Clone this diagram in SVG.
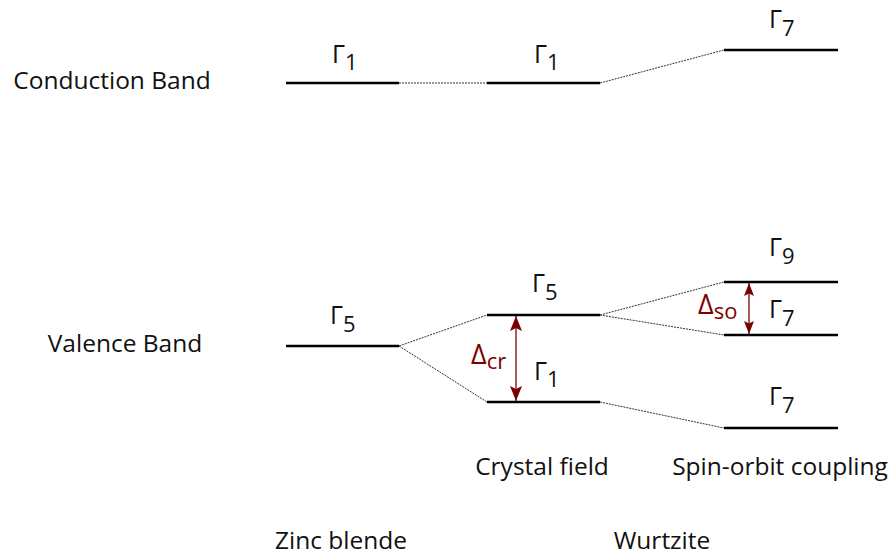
<svg xmlns="http://www.w3.org/2000/svg" width="893" height="557" viewBox="0 0 893 557">
<defs>
<style>
.lvl{stroke:#000;stroke-width:2.5;fill:none}
.dot{stroke:#333;stroke-width:1;stroke-dasharray:2,1;fill:none}
.t{font-family:"Open Sans","DejaVu Sans",sans-serif;font-size:24.5px;fill:#111}
.c{text-anchor:middle}
.g{font-family:"Open Sans","DejaVu Sans",sans-serif;font-size:25px;fill:#111}
.s{font-size:22px}
.r{fill:#800000;font-size:27px}
.arr{stroke:#800000;stroke-opacity:0.65;stroke-width:2;fill:none}
</style>
<marker id="ah" viewBox="0 0 15 12" refX="15" refY="6" markerWidth="15" markerHeight="12" markerUnits="userSpaceOnUse" orient="auto-start-reverse">
<path d="M0,0 L15,6 L0,12 L3,6 z" fill="#7a0000"/>
</marker>
<marker id="ah2" viewBox="0 0 13 10" refX="13" refY="5" markerWidth="13" markerHeight="10" markerUnits="userSpaceOnUse" orient="auto-start-reverse">
<path d="M0,0 L13,5 L0,10 L2.5,5 z" fill="#7a0000"/>
</marker>
</defs>
<rect width="893" height="557" fill="#fff"/>

<g id="connectors">
<line class="dot" x1="399" y1="83" x2="487" y2="83"/>
<line class="dot" x1="600" y1="83" x2="724" y2="50"/>
<line class="dot" x1="399" y1="346" x2="487" y2="315"/>
<line class="dot" x1="399" y1="346" x2="487" y2="402"/>
<line class="dot" x1="600" y1="315" x2="724" y2="282"/>
<line class="dot" x1="600" y1="315" x2="724" y2="335"/>
<line class="dot" x1="600" y1="402" x2="724" y2="428"/>
</g>

<g id="zb-cb">
<line class="lvl" x1="286" y1="83" x2="399" y2="83"/>
<text class="g" x="332" y="63">Γ<tspan class="s" dy="7">1</tspan></text>
</g>
<g id="cf-cb">
<line class="lvl" x1="487" y1="83" x2="600" y2="83"/>
<text class="g" x="534" y="63">Γ<tspan class="s" dy="7">1</tspan></text>
</g>
<g id="so-cb">
<line class="lvl" x1="724" y1="50" x2="838" y2="50"/>
<text class="g" x="769" y="28">Γ<tspan class="s" dy="8">7</tspan></text>
</g>

<g id="zb-vb">
<line class="lvl" x1="286" y1="346" x2="399" y2="346"/>
<text class="g" x="330" y="324">Γ<tspan class="s" dy="8">5</tspan></text>
</g>
<g id="cf-g5">
<line class="lvl" x1="487" y1="315" x2="600" y2="315"/>
<text class="g" x="532" y="292">Γ<tspan class="s" dy="8">5</tspan></text>
</g>
<g id="cf-g1">
<line class="lvl" x1="487" y1="402" x2="600" y2="402"/>
<text class="g" x="534" y="380">Γ<tspan class="s" dy="7">1</tspan></text>
</g>
<g id="so-g9">
<line class="lvl" x1="724" y1="282" x2="838" y2="282"/>
<text class="g" x="769" y="256">Γ<tspan class="s" dy="8">9</tspan></text>
</g>
<g id="so-g7a">
<line class="lvl" x1="724" y1="335" x2="838" y2="335"/>
<text class="g" x="769" y="318">Γ<tspan class="s" dy="8">7</tspan></text>
</g>
<g id="so-g7b">
<line class="lvl" x1="724" y1="428" x2="838" y2="428"/>
<text class="g" x="769" y="405">Γ<tspan class="s" dy="8">7</tspan></text>
</g>

<g id="delta-cr">
<line class="arr" x1="516" y1="316" x2="516" y2="401" marker-start="url(#ah)" marker-end="url(#ah)"/>
<text class="g r" x="471" y="364">Δ<tspan class="s" dy="5">cr</tspan></text>
</g>
<g id="delta-so">
<line class="arr" x1="749" y1="283" x2="749" y2="334" marker-start="url(#ah2)" marker-end="url(#ah2)"/>
<text class="g r" x="698" y="314">Δ<tspan class="s" dy="5">so</tspan></text>
</g>

<g id="labels">
<text class="t c" x="112" y="89">Conduction Band</text>
<text class="t c" x="125" y="352">Valence Band</text>
<text class="t c" x="542" y="475">Crystal field</text>
<text class="t c" x="780" y="475">Spin-orbit coupling</text>
<text class="t c" x="341" y="549">Zinc blende</text>
<text class="t c" x="662" y="549">Wurtzite</text>
</g>
</svg>
